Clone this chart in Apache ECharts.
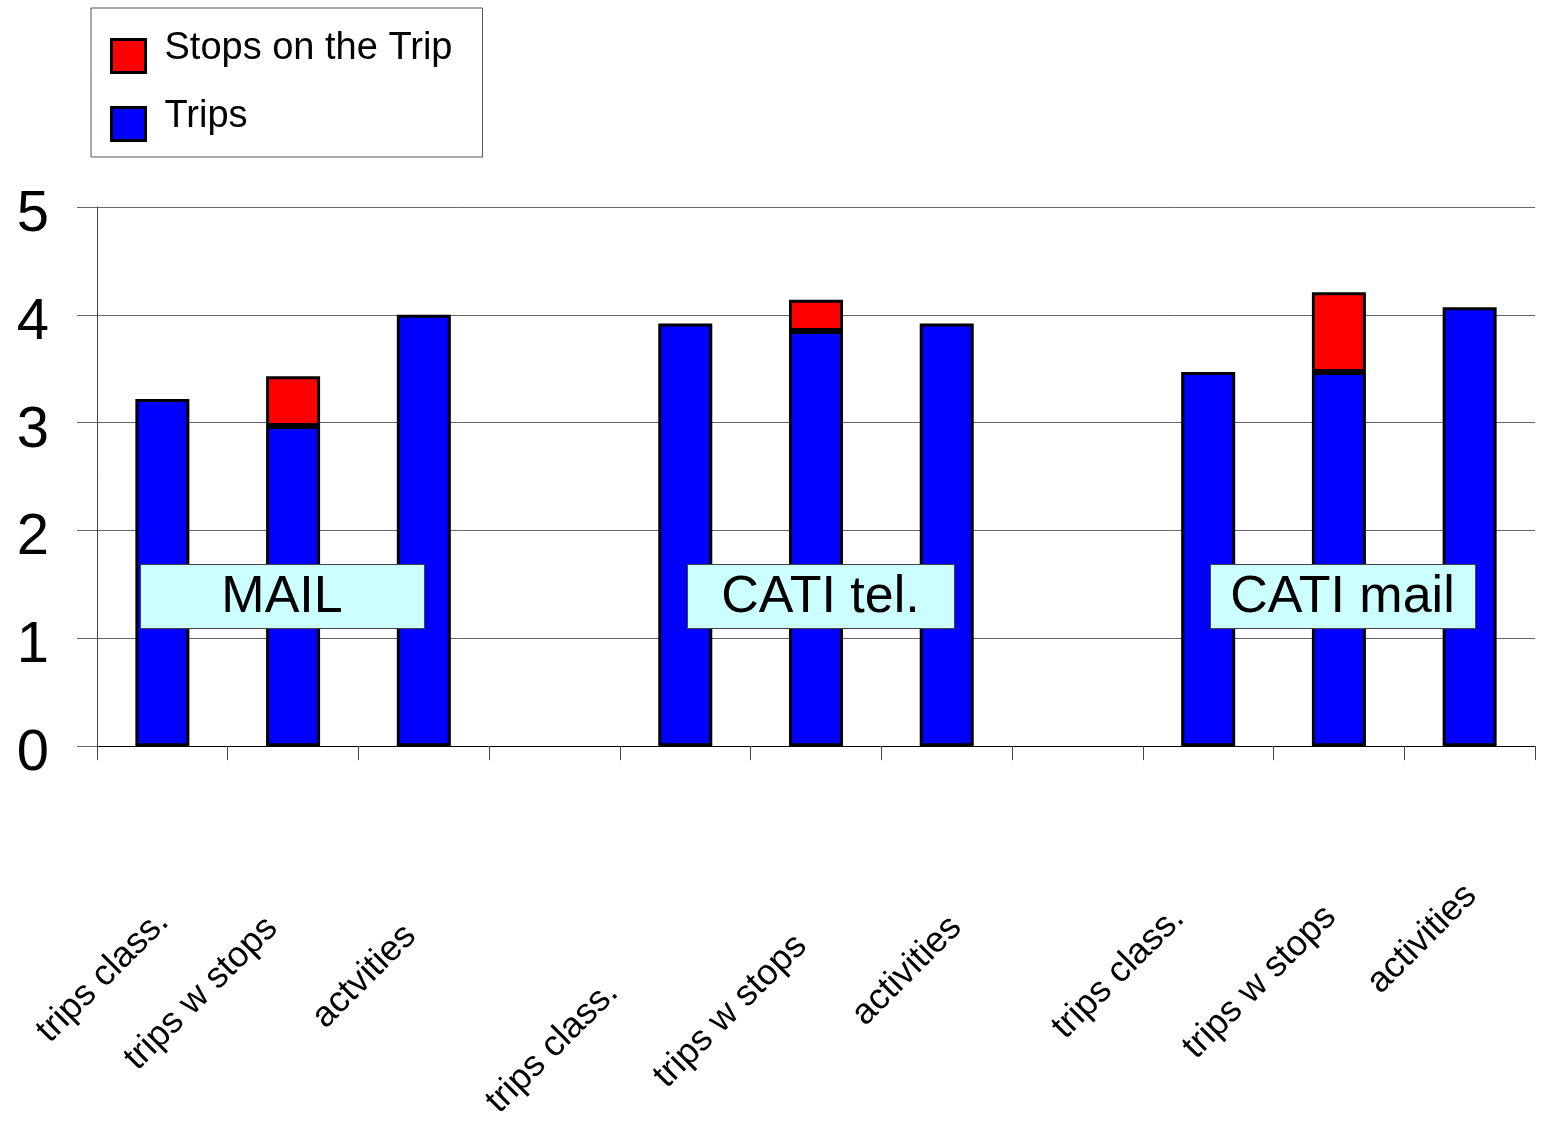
<!DOCTYPE html>
<html>
<head>
<meta charset="utf-8">
<script src="https://cdn.jsdelivr.net/npm/echarts@6/dist/echarts.min.js"></script>
<style>
html,body{margin:0;padding:0;background:#fff;}
#main{width:1541px;height:1125px;}
</style>
</head>
<body>
<div id="main"></div>
<script>
// ---- data ----
var categories = ['trips class.', 'trips w stops', 'actvities', '', 'trips class.', 'trips w stops', 'activities', '', 'trips class.', 'trips w stops', 'activities'];
var tripsValues = [3.22, 2.97, 4.00, '-', 3.92, 3.85, 3.92, '-', 3.47, 3.47, 4.07];
var stopsValues = ['-', 0.46, '-', '-', '-', 0.29, '-', '-', '-', 0.74, '-'];
var yTicks = [0, 1, 2, 3, 4, 5];
var groupNames = ['MAIL', 'CATI tel.', 'CATI mail'];

// ---- layout / style (not data) ----
var FONT = '"Liberation Sans", Arial, sans-serif';
// per-label nudges: [shift back along text, shift perpendicular (down-right)]
var labelNudge = [
  [23, 24], [43, 13], [43, 24], [0, 0],
  [125, 22], [51, 30], [21, 34], [0, 0],
  [42, 0], [26, 14], [4, 6]
];
var groupBoxes = [
  {x: 140, y: 564, w: 284, h: 64},
  {x: 687, y: 564, w: 267, h: 64},
  {x: 1210, y: 564, w: 265, h: 64}
];
// legend icon: square drawn in the lower part of its box (top point is an empty anchor)
var legendIcon = 'path://M0,0Z M0,14 L34,14 L34,47 L0,47 Z';

var catData = categories.map(function (c, i) {
  var n = labelNudge[i];
  var ts = { padding: [0, n[0], 0, 0] };
  if (n[1] > 0) { ts.verticalAlign = 'top'; ts.lineHeight = 2 * n[1]; }
  return { value: c, textStyle: ts };
});

var graphics = [];
groupNames.forEach(function (name, i) {
  var b = groupBoxes[i];
  graphics.push({
    type: 'rect', left: b.x, top: b.y, z: 100,
    shape: {x: 0, y: 0, width: b.w, height: b.h},
    style: {fill: '#CCFFFF', stroke: '#444', lineWidth: 1}
  });
  graphics.push({
    type: 'text', x: b.x + b.w / 2, y: b.y + b.h / 2 + 2, z: 101,
    style: {text: name, font: '52px ' + FONT, fill: '#000', align: 'center', verticalAlign: 'middle'}
  });
});

var chart = echarts.init(document.getElementById('main'), null, {renderer: 'canvas'});
chart.setOption({
  backgroundColor: '#fff',
  animation: false,
  textStyle: {fontFamily: FONT},
  legend: {
    orient: 'vertical',
    left: 91, top: 8,
    padding: [16, 30, 15, 19],
    itemGap: 18,
    itemWidth: 34, itemHeight: 47,
    icon: legendIcon,
    borderColor: '#555', borderWidth: 1,
    data: ['Stops on the Trip', 'Trips'],
    textStyle: {fontSize: 38, color: '#000', fontFamily: FONT, padding: [0, 0, 0, 14]},
    itemStyle: {borderColor: '#000', borderWidth: 3}
  },
  grid: {left: 97, top: 207, width: 1438, bottom: 377, containLabel: false},
  xAxis: {
    type: 'category',
    data: catData,
    boundaryGap: true,
    axisLine: {show: true, lineStyle: {color: '#000', width: 1}},
    axisTick: {show: true, length: 14, interval: 0, lineStyle: {color: '#444'}},
    axisLabel: {
      interval: 0, rotate: 45, margin: 137, fontSize: 36, color: '#000',
      fontFamily: FONT, hideOverlap: false
    },
    splitLine: {show: false}
  },
  yAxis: {
    type: 'value', min: 0, max: 5, interval: 1,
    axisLine: {show: true, lineStyle: {color: '#444', width: 1}},
    axisTick: {show: true, length: 20, inside: false, lineStyle: {color: '#666'}},
    axisLabel: {fontSize: 58, color: '#000', margin: 48, fontFamily: FONT,
      verticalAlign: 'top', lineHeight: 16,
      formatter: function (v) { return yTicks.indexOf(v) >= 0 ? String(v) : ''; }},
    splitLine: {show: true, lineStyle: {color: '#666', width: 1}}
  },
  series: [
    {
      name: 'Trips', type: 'bar', stack: 'total', barWidth: 54,
      data: tripsValues,
      itemStyle: {color: '#0000FF', borderColor: '#000', borderWidth: 3}
    },
    {
      name: 'Stops on the Trip', type: 'bar', stack: 'total', barWidth: 54,
      data: stopsValues,
      itemStyle: {color: '#FF0000', borderColor: '#000', borderWidth: 3}
    }
  ],
  graphic: graphics
});
</script>
</body>
</html>
